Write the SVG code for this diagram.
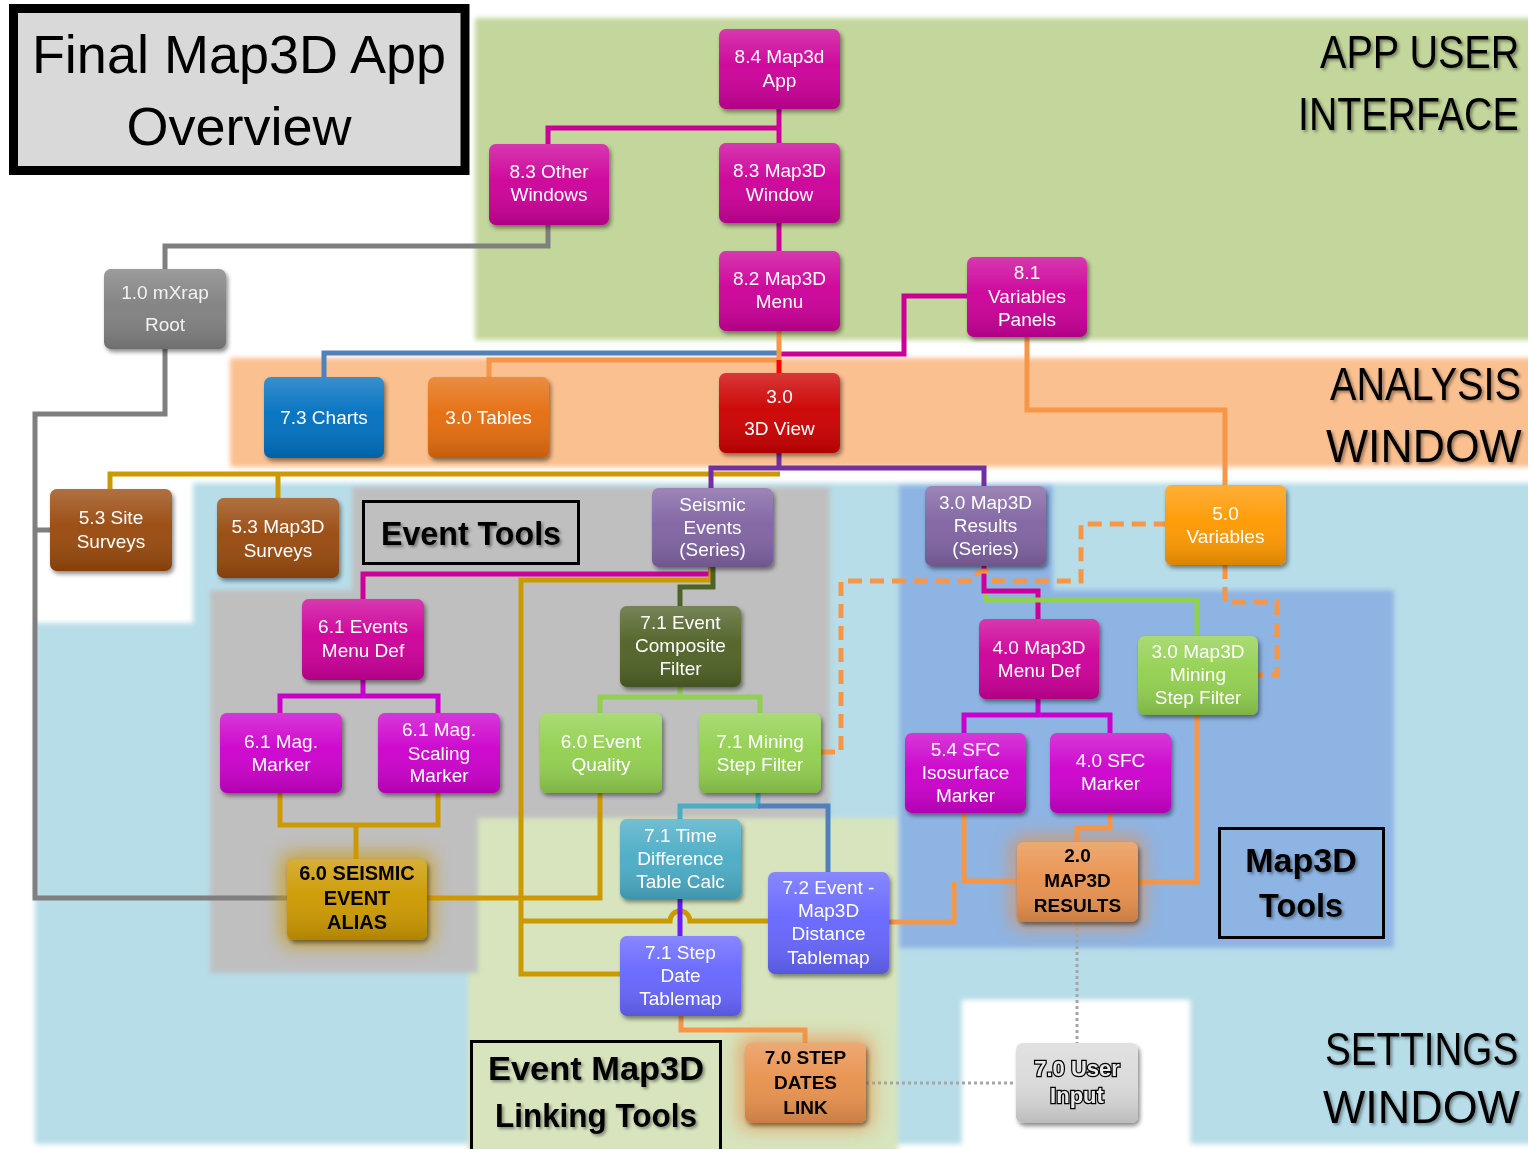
<svg xmlns="http://www.w3.org/2000/svg" width="1528" height="1149" viewBox="0 0 1528 1149">
<style>
.n text{font-family:"Liberation Sans",Arial,sans-serif;font-size:19px;fill:#fff;text-anchor:middle}
.bk text{font-weight:bold;fill:#000}
.c{fill:none;stroke-width:5;stroke-linejoin:miter;stroke-linecap:butt}
.gray{stroke:#7f7f7f}.mag{stroke:#cc0099}.vio{stroke:#cc00cc}.blu{stroke:#4f81bd}.org{stroke:#f79646}
.red{stroke:#ff0000}.pur{stroke:#7030a0}.gold{stroke:#cc9900}.dgr{stroke:#4f6228}.lgr{stroke:#92d050}
.cyn{stroke:#4bacc6}.ind{stroke:#6a1bff}
.dash{stroke-dasharray:14 8}
.dot{stroke:#a6a6a6;stroke-width:3;stroke-dasharray:3 3}
.reg{font-family:"Liberation Sans",Arial,sans-serif;font-size:46px;fill:#000}
.lab{font-family:"Liberation Sans",Arial,sans-serif;font-weight:bold;font-size:34px;fill:#000;text-anchor:middle}
</style>
<defs>
<filter id="sh" x="-20%" y="-20%" width="150%" height="160%"><feDropShadow dx="2" dy="3" stdDeviation="2" flood-color="#000" flood-opacity="0.45"/></filter>
<filter id="glow" x="-50%" y="-50%" width="200%" height="200%"><feGaussianBlur stdDeviation="9"/></filter>
<filter id="soft" x="-5%" y="-5%" width="110%" height="110%"><feGaussianBlur stdDeviation="2.5"/></filter>
<filter id="ts" x="-10%" y="-20%" width="130%" height="150%"><feDropShadow dx="2" dy="2" stdDeviation="1.5" flood-color="#000" flood-opacity="0.4"/></filter>
<linearGradient id="gl" x1="0" y1="0" x2="0" y2="1"><stop offset="0" stop-color="#fff" stop-opacity="0.22"/><stop offset="0.45" stop-color="#fff" stop-opacity="0.04"/><stop offset="1" stop-color="#000" stop-opacity="0.14"/></linearGradient>
</defs>
<rect x="0" y="0" width="1528" height="1149" fill="#fff"/>
<g id="regions" filter="url(#soft)">
<rect x="475" y="18" width="1060" height="322" fill="#c3d69b"/>
<rect x="230" y="358" width="1305" height="109" fill="#fac090"/>
<polygon points="193,483 1535,483 1535,1144 35,1144 35,623 193,623" fill="#b7dde8"/>
<rect x="468" y="818" width="430" height="340" fill="#d7e4bd"/>
<polygon points="352,487 830,487 830,818 478,818 478,973 210,973 210,590 352,590" fill="#bfbfbf"/>
<polygon points="899,485 1053,485 1053,590 1394,590 1394,948 899,948" fill="#8eb4e3"/>
<rect x="962" y="1000" width="228" height="160" fill="#fff"/>
</g>
<g id="title">
<rect x="13.5" y="8.5" width="451.5" height="162" fill="#d9d9d9" stroke="#000" stroke-width="9"/>
<text x="239" y="73" font-family="Liberation Sans,Arial,sans-serif" font-size="54" text-anchor="middle" fill="#000">Final Map3D App</text>
<text x="239" y="145" font-family="Liberation Sans,Arial,sans-serif" font-size="54" text-anchor="middle" fill="#000">Overview</text>
</g>
<g id="region-labels" filter="url(#ts)">
<text class="reg" transform="translate(1320,68) scale(0.86,1)">APP USER</text>
<text class="reg" transform="translate(1298,130) scale(0.855,1)">INTERFACE</text>
<text class="reg" transform="translate(1330,400) scale(0.862,1)">ANALYSIS</text>
<text class="reg" transform="translate(1326,462) scale(0.97,1)">WINDOW</text>
<text class="reg" transform="translate(1325,1065) scale(0.84,1)">SETTINGS</text>
<text class="reg" transform="translate(1323,1123) scale(0.976,1)">WINDOW</text>
</g>
<g id="label-boxes">
<rect x="363.5" y="501.5" width="215" height="62" fill="none" stroke="#000" stroke-width="3"/>
<text class="lab" x="471" y="545" textLength="180" lengthAdjust="spacingAndGlyphs" filter="url(#ts)">Event Tools</text>
<rect x="1219.5" y="828.5" width="164" height="109" fill="none" stroke="#000" stroke-width="3"/>
<text class="lab" x="1301" y="872" filter="url(#ts)">Map3D</text>
<text class="lab" x="1301" y="917" textLength="84" lengthAdjust="spacingAndGlyphs" filter="url(#ts)">Tools</text>
<rect x="471.5" y="1041.5" width="249" height="120" fill="none" stroke="#000" stroke-width="3"/>
<text class="lab" x="596" y="1080" textLength="216" lengthAdjust="spacingAndGlyphs" filter="url(#ts)">Event Map3D</text>
<text class="lab" x="596" y="1127" textLength="202" lengthAdjust="spacingAndGlyphs" filter="url(#ts)">Linking Tools</text>
</g>
<g id="connectors">
<path class="c gray" d="M548,225 V246 H165 V269"/>
<path class="c gray" d="M165,349 V414 H35 V898 H287 M35,530 H50"/>
<path class="c mag" d="M779,109 V143 M548,144 V128 H779"/>
<path class="c mag" d="M779,223 V251"/>
<path class="c blu" d="M324,377 V353 H779"/>
<path class="c mag" d="M967,296 H904 V354 H779"/>
<path class="c org" d="M779,331 V360 H489 V377"/>
<path class="c red" d="M779,360 V373"/>
<path class="c org" d="M1027,337 V410 H1225 V485"/>
<path class="c gold" d="M780,474 H110 V489 M278,474 V498"/>
<path class="c pur" d="M779,453 V468 H711 V488 M779,468 H984 V486"/>
<path class="c mag" d="M711,567 V574 H363 V599"/>
<path class="c gold" d="M711,567 V580 H521 V974 H620 M521,921 H670 A10,10 0 0 1 690,921 H768"/>
<path class="c dgr" d="M713,567 V587 H680 V606"/>
<path class="c vio" d="M363,680 V696 H280 V713 M363,696 H438 V713"/>
<path class="c gold" d="M280,793 V825 H438 V793 M356,825 V859"/>
<path class="c gold" d="M427,898 H600 V793"/>
<path class="c lgr" d="M680,687 V697 H600 V713 M680,697 H760 V713"/>
<path class="c cyn" d="M758,793 V806 H680 V819"/>
<path class="c blu" d="M758,806 H828 V872"/>
<path class="c ind" d="M680,899 V936"/>
<path class="c mag" d="M984,566 V591 H1038 V619"/>
<path class="c lgr" d="M986,594 V600 H1197 V636"/>
<path class="c vio" d="M1038,699 V715 H964 V733 M1038,715 H1110 V733"/>
<path class="c org" d="M964,813 V881 H1017"/>
<path class="c org" d="M889,922 H954 V881"/>
<path class="c org" d="M1110,813 V828 H1077 V842"/>
<path class="c org" d="M1197,715 V882 H1138"/>
<path class="c org" d="M681,1016 V1030 H805 V1043"/>
<path class="c org dash" d="M821,752 H841 V581 H974 A10,10 0 0 1 994,581 H1081 V524 H1165"/>
<path class="c org dash" d="M1225,565 V602 H1277 V675 H1258"/>
<path class="c dot" d="M1077,922 V1043"/>
<path class="c dot" d="M866,1083 H1016"/>
</g>
<g id="n84" class="n"><rect x="719" y="29" width="121" height="80" rx="7" fill="#cc0099" filter="url(#sh)"/><rect x="719" y="29" width="121" height="80" rx="7" fill="url(#gl)"/><text x="779.5" y="63">8.4 Map3d</text><text x="779.5" y="87">App</text></g>
<g id="n83o" class="n"><rect x="489" y="144" width="120" height="81" rx="7" fill="#cc0099" filter="url(#sh)"/><rect x="489" y="144" width="120" height="81" rx="7" fill="url(#gl)"/><text x="549" y="178">8.3 Other</text><text x="549" y="201">Windows</text></g>
<g id="n83w" class="n"><rect x="719" y="143" width="121" height="80" rx="7" fill="#cc0099" filter="url(#sh)"/><rect x="719" y="143" width="121" height="80" rx="7" fill="url(#gl)"/><text x="779.5" y="177">8.3 Map3D</text><text x="779.5" y="201">Window</text></g>
<g id="n82" class="n"><rect x="719" y="251" width="121" height="80" rx="7" fill="#cc0099" filter="url(#sh)"/><rect x="719" y="251" width="121" height="80" rx="7" fill="url(#gl)"/><text x="779.5" y="285">8.2 Map3D</text><text x="779.5" y="308">Menu</text></g>
<g id="n81" class="n"><rect x="967" y="257" width="120" height="80" rx="7" fill="#cc0099" filter="url(#sh)"/><rect x="967" y="257" width="120" height="80" rx="7" fill="url(#gl)"/><text x="1027" y="279">8.1</text><text x="1027" y="303">Variables</text><text x="1027" y="326">Panels</text></g>
<g id="n10" class="n"><rect x="104" y="269" width="122" height="80" rx="7" fill="#808080" filter="url(#sh)"/><rect x="104" y="269" width="122" height="80" rx="7" fill="url(#gl)"/><text x="165" y="299" style="fill:#f2f2f2">1.0 mXrap</text><text x="165" y="331" style="fill:#f2f2f2">Root</text></g>
<g id="n73" class="n"><rect x="264" y="377" width="120" height="81" rx="7" fill="#0070c0" filter="url(#sh)"/><rect x="264" y="377" width="120" height="81" rx="7" fill="url(#gl)"/><text x="324" y="424">7.3 Charts</text></g>
<g id="n30t" class="n"><rect x="428" y="377" width="121" height="81" rx="7" fill="#e46c0a" filter="url(#sh)"/><rect x="428" y="377" width="121" height="81" rx="7" fill="url(#gl)"/><text x="488.5" y="424">3.0 Tables</text></g>
<g id="n30v" class="n"><rect x="719" y="373" width="121" height="80" rx="7" fill="#cc0000" filter="url(#sh)"/><rect x="719" y="373" width="121" height="80" rx="7" fill="url(#gl)"/><text x="779.5" y="403">3.0</text><text x="779.5" y="435">3D View</text></g>
<g id="n53s" class="n"><rect x="50" y="489" width="122" height="82" rx="7" fill="#984807" filter="url(#sh)"/><rect x="50" y="489" width="122" height="82" rx="7" fill="url(#gl)"/><text x="111" y="524">5.3 Site</text><text x="111" y="548">Surveys</text></g>
<g id="n53m" class="n"><rect x="217" y="498" width="122" height="80" rx="7" fill="#984807" filter="url(#sh)"/><rect x="217" y="498" width="122" height="80" rx="7" fill="url(#gl)"/><text x="278" y="533">5.3 Map3D</text><text x="278" y="557">Surveys</text></g>
<g id="nSeis" class="n"><rect x="652" y="488" width="121" height="79" rx="7" fill="#8064a2" filter="url(#sh)"/><rect x="652" y="488" width="121" height="79" rx="7" fill="url(#gl)"/><text x="712.5" y="511">Seismic</text><text x="712.5" y="534">Events</text><text x="712.5" y="556">(Series)</text></g>
<g id="n30r" class="n"><rect x="925" y="486" width="121" height="80" rx="7" fill="#8064a2" filter="url(#sh)"/><rect x="925" y="486" width="121" height="80" rx="7" fill="url(#gl)"/><text x="985.5" y="509">3.0 Map3D</text><text x="985.5" y="532">Results</text><text x="985.5" y="555">(Series)</text></g>
<g id="n50" class="n"><rect x="1165" y="485" width="121" height="80" rx="7" fill="#ff9900" filter="url(#sh)"/><rect x="1165" y="485" width="121" height="80" rx="7" fill="url(#gl)"/><text x="1225.5" y="520">5.0</text><text x="1225.5" y="543">Variables</text></g>
<g id="n61e" class="n"><rect x="302" y="599" width="122" height="81" rx="7" fill="#cc0099" filter="url(#sh)"/><rect x="302" y="599" width="122" height="81" rx="7" fill="url(#gl)"/><text x="363" y="633">6.1 Events</text><text x="363" y="657">Menu Def</text></g>
<g id="n71c" class="n"><rect x="620" y="606" width="121" height="81" rx="7" fill="#4f6228" filter="url(#sh)"/><rect x="620" y="606" width="121" height="81" rx="7" fill="url(#gl)"/><text x="680.5" y="629">7.1 Event</text><text x="680.5" y="652">Composite</text><text x="680.5" y="675">Filter</text></g>
<g id="n40m" class="n"><rect x="979" y="619" width="120" height="80" rx="7" fill="#cc0099" filter="url(#sh)"/><rect x="979" y="619" width="120" height="80" rx="7" fill="url(#gl)"/><text x="1039" y="654">4.0 Map3D</text><text x="1039" y="677">Menu Def</text></g>
<g id="n30m" class="n"><rect x="1138" y="636" width="120" height="79" rx="7" fill="#92d050" filter="url(#sh)"/><rect x="1138" y="636" width="120" height="79" rx="7" fill="url(#gl)"/><text x="1198" y="658">3.0 Map3D</text><text x="1198" y="681">Mining</text><text x="1198" y="704">Step Filter</text></g>
<g id="n61m" class="n"><rect x="220" y="713" width="122" height="80" rx="7" fill="#cc00cc" filter="url(#sh)"/><rect x="220" y="713" width="122" height="80" rx="7" fill="url(#gl)"/><text x="281" y="748">6.1 Mag.</text><text x="281" y="771">Marker</text></g>
<g id="n61s" class="n"><rect x="378" y="713" width="122" height="80" rx="7" fill="#cc00cc" filter="url(#sh)"/><rect x="378" y="713" width="122" height="80" rx="7" fill="url(#gl)"/><text x="439" y="736">6.1 Mag.</text><text x="439" y="760">Scaling</text><text x="439" y="782">Marker</text></g>
<g id="n60q" class="n"><rect x="540" y="713" width="122" height="80" rx="7" fill="#92d050" filter="url(#sh)"/><rect x="540" y="713" width="122" height="80" rx="7" fill="url(#gl)"/><text x="601" y="748">6.0 Event</text><text x="601" y="771">Quality</text></g>
<g id="n71m" class="n"><rect x="699" y="713" width="122" height="80" rx="7" fill="#92d050" filter="url(#sh)"/><rect x="699" y="713" width="122" height="80" rx="7" fill="url(#gl)"/><text x="760" y="748">7.1 Mining</text><text x="760" y="771">Step Filter</text></g>
<g id="n54" class="n"><rect x="905" y="733" width="121" height="80" rx="7" fill="#cc00cc" filter="url(#sh)"/><rect x="905" y="733" width="121" height="80" rx="7" fill="url(#gl)"/><text x="965.5" y="756">5.4 SFC</text><text x="965.5" y="779">Isosurface</text><text x="965.5" y="802">Marker</text></g>
<g id="n40s" class="n"><rect x="1050" y="733" width="121" height="80" rx="7" fill="#cc00cc" filter="url(#sh)"/><rect x="1050" y="733" width="121" height="80" rx="7" fill="url(#gl)"/><text x="1110.5" y="767">4.0 SFC</text><text x="1110.5" y="790">Marker</text></g>
<g id="n71t" class="n"><rect x="620" y="819" width="121" height="80" rx="7" fill="#4bacc6" filter="url(#sh)"/><rect x="620" y="819" width="121" height="80" rx="7" fill="url(#gl)"/><text x="680.5" y="842">7.1 Time</text><text x="680.5" y="865">Difference</text><text x="680.5" y="888">Table Calc</text></g>
<g id="n20" class="n bk"><rect x="1011" y="836" width="133" height="92" rx="10" fill="#e8914d" opacity="0.7" filter="url(#glow)"/><rect x="1017" y="842" width="121" height="80" rx="7" fill="#e8914d" filter="url(#sh)"/><rect x="1017" y="842" width="121" height="80" rx="7" fill="url(#gl)"/><text x="1077.5" y="862">2.0</text><text x="1077.5" y="887">MAP3D</text><text x="1077.5" y="912">RESULTS</text></g>
<g id="n60s" class="n bk"><rect x="281" y="853" width="152" height="93" rx="10" fill="#cc9900" opacity="0.7" filter="url(#glow)"/><rect x="287" y="859" width="140" height="81" rx="7" fill="#cc9900" filter="url(#sh)"/><rect x="287" y="859" width="140" height="81" rx="7" fill="url(#gl)"/><text x="357" y="880" style="font-size:20px">6.0 SEISMIC</text><text x="357" y="905" style="font-size:20px">EVENT</text><text x="357" y="929" style="font-size:20px">ALIAS</text></g>
<g id="n72" class="n"><rect x="768" y="872" width="121" height="102" rx="7" fill="#6666ff" filter="url(#sh)"/><rect x="768" y="872" width="121" height="102" rx="7" fill="url(#gl)"/><text x="828.5" y="894">7.2 Event -</text><text x="828.5" y="917">Map3D</text><text x="828.5" y="940">Distance</text><text x="828.5" y="964">Tablemap</text></g>
<g id="n71d" class="n"><rect x="620" y="936" width="121" height="80" rx="7" fill="#6666ff" filter="url(#sh)"/><rect x="620" y="936" width="121" height="80" rx="7" fill="url(#gl)"/><text x="680.5" y="959">7.1 Step</text><text x="680.5" y="982">Date</text><text x="680.5" y="1005">Tablemap</text></g>
<g id="n70s" class="n bk"><rect x="739" y="1037" width="133" height="92" rx="10" fill="#e8914d" opacity="0.7" filter="url(#glow)"/><rect x="745" y="1043" width="121" height="80" rx="7" fill="#e8914d" filter="url(#sh)"/><rect x="745" y="1043" width="121" height="80" rx="7" fill="url(#gl)"/><text x="805.5" y="1064">7.0 STEP</text><text x="805.5" y="1089">DATES</text><text x="805.5" y="1114">LINK</text></g>
<g id="n70u" class="n"><rect x="1016" y="1043" width="122" height="80" rx="7" fill="#d9d9d9" filter="url(#sh)"/><rect x="1016" y="1043" width="122" height="80" rx="7" fill="url(#gl)"/><text x="1077" y="1076" style="font-size:22px;font-weight:bold;fill:#e8e8e8;stroke:#000;stroke-width:2.5px;paint-order:stroke">7.0 User</text><text x="1077" y="1103" style="font-size:22px;font-weight:bold;fill:#e8e8e8;stroke:#000;stroke-width:2.5px;paint-order:stroke">Input</text></g>
</svg>
